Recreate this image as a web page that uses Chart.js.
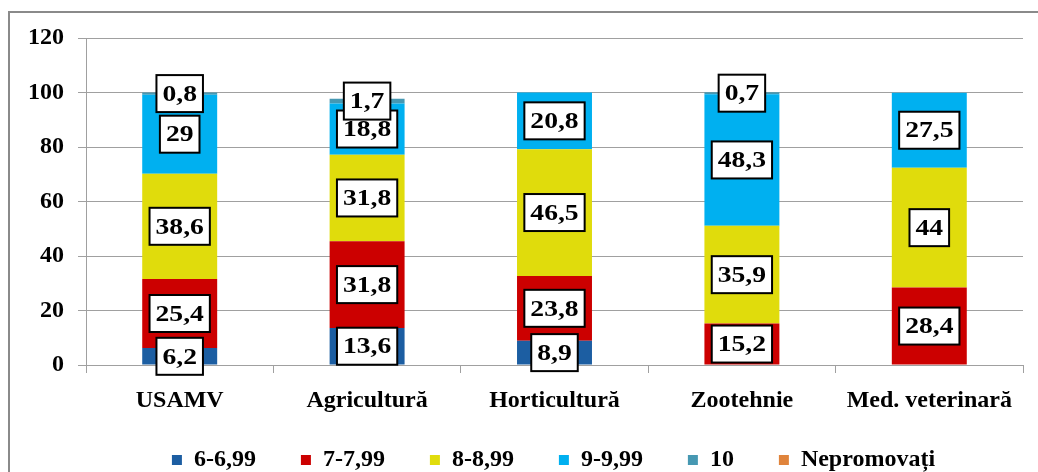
<!DOCTYPE html>
<html>
<head>
<meta charset="utf-8">
<script src="https://cdn.jsdelivr.net/npm/chart.js@4/dist/chart.umd.min.js"></script>
<style>
  html, body { margin: 0; padding: 0; background: #fff; overflow: hidden; }
  #frame { position: absolute; left: 8px; top: 11px; width: 1100px; height: 520px; border: 2px solid #8a8a8a; }
  #wrap { position: absolute; left: 0; top: 0; width: 1038px; height: 472px; }
</style>
</head>
<body>
<div id="frame"></div>
<div id="wrap"><canvas id="grafic"></canvas></div>
<script>
// date
const categorii = ['USAMV', 'Agricultură', 'Horticultură', 'Zootehnie', 'Med. veterinară'];
const serie6 = [6.2, 13.6, 8.9, 0, 0];
const serie7 = [25.4, 31.8, 23.8, 15.2, 28.4];
const serie8 = [38.6, 31.8, 46.5, 35.9, 44];
const serie9 = [29, 18.8, 20.8, 48.3, 27.5];
const serie10 = [0.8, 1.7, 0, 0.7, 0];
const nepromovati = [0, 0, 0, 0, 0];
const yTicks = [0, 20, 40, 60, 80, 100, 120];

const gri = '#a0a0a0';
const serif = 'Liberation Serif';

// etichete in casete albe, ca in Excel
const eticheteCasete = {
  id: 'eticheteCasete',
  afterDatasetsDraw(chart) {
    const ctx = chart.ctx;
    ctx.save();
    ctx.font = 'bold 24px "' + serif + '"';
    ctx.textAlign = 'center';
    ctx.textBaseline = 'middle';
    const sx = 1.15;
    chart.data.datasets.forEach((ds, i) => {
      const meta = chart.getDatasetMeta(i);
      meta.data.forEach((el, j) => {
        const v = ds.data[j];
        if (!v) return;
        const txt = String(v).replace('.', ',');
        const cy = (el.y + el.base) / 2;
        const w = ctx.measureText(txt).width * sx + 12;
        const h = 37;
        ctx.fillStyle = '#fff';
        ctx.fillRect(el.x - w / 2, cy - h / 2, w, h);
        ctx.lineWidth = 2;
        ctx.strokeStyle = '#000';
        ctx.strokeRect(el.x - w / 2, cy - h / 2, w, h);
        ctx.fillStyle = '#000';
        ctx.save();
        ctx.translate(el.x, cy + 1);
        ctx.scale(sx, 1);
        ctx.fillText(txt, 0, 0);
        ctx.restore();
      });
    });
    ctx.restore();
  }
};

// legenda: inaltime fixa, centrata sub zona graficului
const legendaJos = {
  id: 'legendaJos',
  beforeUpdate(chart) {
    const lg = chart.legend;
    if (!lg || lg._ajustata) return;
    const fit = lg.fit.bind(lg);
    const draw = lg.draw.bind(lg);
    lg.fit = function () { fit(); this.height = 57; };
    lg.draw = function () {
      const t = this.top, l = this.left, r = this.right;
      this.top = t - 12;
      this.left = l + 42;
      this.right = r + 42;
      draw();
      this.top = t;
      this.left = l;
      this.right = r;
    };
    lg._ajustata = true;
  }
};

const dataNote = {
  labels: categorii,
  datasets: [
    { label: '6-6,99', data: serie6, backgroundColor: '#1c5ea2' },
    { label: '7-7,99', data: serie7, backgroundColor: '#cc0000' },
    { label: '8-8,99', data: serie8, backgroundColor: '#e0dc0c' },
    { label: '9-9,99', data: serie9, backgroundColor: '#00b0f0' },
    { label: '10', data: serie10, backgroundColor: '#4698b2' },
    { label: 'Nepromovați', data: nepromovati, backgroundColor: '#e0843c' }
  ]
};

const configNote = {
  type: 'bar',
  data: dataNote,
  plugins: [eticheteCasete, legendaJos],
  options: {
    responsive: true,
    maintainAspectRatio: false,
    animation: false,
    layout: { padding: { top: 38, right: 15, left: 0, bottom: 0 } },
    datasets: { bar: { barPercentage: 0.4, categoryPercentage: 1 } },
    scales: {
      x: {
        stacked: true,
        grid: { drawOnChartArea: false, drawTicks: true, tickLength: 8, color: gri, offset: true },
        border: { color: gri },
        ticks: { color: '#000', padding: 13, font: { family: serif, size: 24, weight: 'bold' } },
        afterFit(scale) { scale.height = 50; }
      },
      y: {
        stacked: true,
        min: 0,
        max: 120,
        afterBuildTicks(scale) { scale.ticks = yTicks.map(v => ({ value: v })); },
        grid: { color: gri, tickLength: 8 },
        border: { color: gri },
        ticks: { color: '#000', padding: 14, font: { family: serif, size: 24, weight: 'bold' } },
        afterFit(scale) { scale.width = 86; }
      }
    },
    plugins: {
      legend: {
        position: 'bottom',
        labels: {
          color: '#000',
          boxWidth: 10,
          boxHeight: 10,
          padding: 45,
          font: { family: serif, size: 24, weight: 'bold' }
        }
      },
      tooltip: { enabled: false }
    }
  }
};

new Chart(document.getElementById('grafic').getContext('2d'), configNote);
</script>
</body>
</html>
